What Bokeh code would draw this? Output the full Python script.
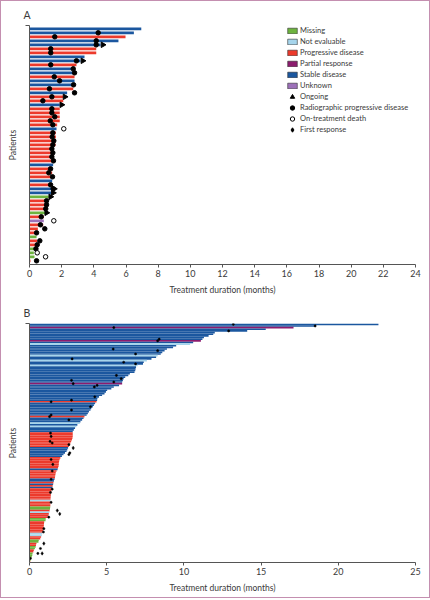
import math
from bokeh.plotting import figure
from bokeh.models import Range1d, FixedTicker, Legend, LegendItem, ColumnDataSource
from bokeh.layouts import column
from bokeh.embed import file_html
from bokeh.resources import INLINE

FONT = "Lato"
TEXT = "#3a3a3a"
AXIS = "#555555"
NAN = float("nan")

# ---------------- categories ----------------
status_codes = ["M", "N", "P", "R", "S", "U"]
status_names = ["Missing", "Not evaluable", "Progressive disease",
                "Partial response", "Stable disease", "Unknown"]
status_colors = ["#6db33f", "#a6d5ec", "#ec3a2c", "#8c1c6e", "#1b579f", "#9d71b9"]
marker_names = ["Ongoing", "Radiographic progressive disease",
                "On-treatment death", "First response"]

# ---------------- panel A data ----------------
a_dur = [6.95, 6.49, 5.97, 5.53, 4.42, 4.15, 4.15, 3.42, 3.17, 2.92,
         2.80, 2.80, 2.80, 2.80, 2.80, 2.72, 2.34, 2.10, 2.10, 1.88,
         1.88, 1.88, 1.88, 1.88, 1.72, 1.68, 1.64, 1.64, 1.62, 1.62,
         1.51, 1.51, 1.51, 1.51, 1.47, 1.41, 1.41, 1.41, 1.41, 1.35,
         1.41, 1.37, 1.20, 1.10, 1.10, 1.06, 1.00, 0.89, 0.89, 0.85,
         0.52, 0.48, 0.44, 0.47, 0.44, 0.33, 0.27, 0.31, 0.06]
a_status = ["S", "S", "P", "S", "S", "P", "P", "S", "S", "P",
            "S", "S", "P", "S", "S", "P", "S", "P", "P", "S",
            "P", "P", "P", "P", "P", "S", "P", "P", "P", "P",
            "P", "P", "P", "P", "S", "P", "P", "P", "S", "P",
            "S", "S", "M", "P", "P", "P", "M", "P", "U", "P",
            "P", "P", "M", "P", "P", "M", "M", "M", "P"]
a_pd_rows = [2, 3, 4, 5, 6, 7, 9, 10, 11, 12, 13, 14, 15, 16, 17, 18, 19, 21, 22, 23,
             24, 25, 27, 28, 29, 30, 31, 32, 33, 34, 36, 37, 38, 40, 41, 44, 45, 46, 48, 50,
             51, 52, 54, 55, 56, 59]
a_pd_vals = [4.27, 1.57, 4.15, 4.15, 1.32, 1.32, 2.92, 1.32, 2.72, 2.80, 1.54, 1.87, 2.74, 1.24,
             2.80, 1.39, 0.83, 1.39, 1.39, 1.57, 1.29, 1.45, 1.45, 1.41, 1.51, 1.45, 1.39, 1.45,
             1.39, 1.49, 1.31, 1.20, 1.43, 1.31, 1.47, 1.06, 1.06, 1.01, 0.73, 0.68, 0.95, 0.44,
             0.64, 0.48, 0.40, 0.44]
a_on_rows = [5, 9, 18, 20, 41, 42, 43, 47]
a_on_vals = [4.56, 3.31, 2.20, 2.00, 1.53, 1.47, 1.31, 1.06]
a_death_rows = [26, 49, 57, 58]
a_death_vals = [2.13, 1.51, 0.48, 1.00]
a_ticks = [0, 2, 4, 6, 8, 10, 12, 14, 16, 18, 20, 22, 24]

# ---------------- panel B data ----------------
b_dur = [22.6, 18.5, 17.1, 15.3, 14.1, 12.0, 11.9, 11.6, 11.3, 11.2,
         11.1, 10.6, 10.4, 9.5, 9.3, 8.9, 8.75, 8.6, 8.5, 8.3,
         8.2, 7.9, 7.6, 7.4, 7.35, 7.0, 6.9, 6.87, 6.85, 6.8,
         6.5, 6.4, 6.2, 6.1, 6.05, 6.0, 6.0, 5.8, 5.46, 5.3,
         5.03, 4.95, 4.86, 4.7, 4.5, 4.4, 4.38, 4.34, 4.25, 4.17,
         4.1, 4.0, 3.95, 3.85, 3.78, 3.7, 3.56, 3.5, 3.41, 3.3,
         3.26, 3.1, 3.04, 2.95, 2.87, 2.8, 2.8, 2.8, 2.8, 2.78,
         2.75, 2.7, 2.65, 2.6, 2.55, 2.5, 2.45, 2.4, 2.3, 2.2,
         2.1, 2.0, 1.95, 1.92, 1.9, 1.9, 1.88, 1.85, 1.82, 1.75,
         1.7, 1.68, 1.66, 1.65, 1.62, 1.58, 1.55, 1.53, 1.5, 1.48,
         1.45, 1.42, 1.4, 1.38, 1.38, 1.37, 1.36, 1.36, 1.36, 1.35,
         1.35, 1.34, 1.33, 1.3, 1.28, 1.25, 1.22, 1.18, 1.05, 1.04,
         0.95, 0.94, 0.93, 0.92, 0.9, 0.88, 0.85, 0.82, 0.8, 0.75,
         0.7, 0.6, 0.58, 0.45, 0.42, 0.4, 0.35, 0.28, 0.25, 0.2,
         0.18, 0.15, 0.1, 0.08, 0.05]
b_status = (["S", "S", "R", "S", "S", "S", "S", "S", "S", "S",
             "R", "S", "N", "S", "S", "S", "S", "S", "S", "N",
             "S", "S", "N", "S", "S", "N", "S", "S", "S", "S",
             "S", "S", "S", "S", "S", "S", "R", "S", "S", "S",
             "S", "S", "S", "S", "S", "S", "S", "P", "S", "S",
             "S", "S", "S", "S", "S", "S", "P", "S", "S", "S",
             "N", "S", "N", "S", "S", "S", "P", "P", "P", "P",
             "P", "P", "P", "P", "P", "S", "S", "S", "S", "S",
             "S", "P", "P", "P", "P", "P", "P", "P", "S", "P",
             "P", "P", "P", "P", "S", "S", "P", "S", "P", "S",
             "P", "P", "P", "P", "P", "P", "P", "N", "P", "P",
             "P", "M", "M", "P", "N", "P", "P", "P", "M", "M",
             "P", "P", "P", "P", "P", "P", "P", "N", "N", "P",
             "P", "M", "M", "P", "P", "M", "M", "P", "P", "M",
             "M", "M", "P", "M", "P"])
b_pd_rows = [1, 2, 3, 5, 10, 11, 16, 17, 19, 22, 24, 25, 32, 34, 35, 36, 37, 38, 39, 45,
             47, 48, 51, 53, 56, 57, 59, 67, 69, 72, 73, 74, 79, 80, 83, 86, 90, 95, 101, 103,
             109, 118, 125, 127, 137, 140, 143]
b_pd_vals = [13.2, 18.5, 5.46, 12.9, 8.4, 8.3, 5.42, 8.3, 6.87, 2.76, 6.1, 6.87, 5.63, 5.94,
             2.72, 5.46, 2.83, 4.38, 4.2, 4.23, 2.72, 1.4, 3.95, 2.72, 1.4, 1.3, 2.55, 1.36,
             1.4, 1.33, 1.47, 2.55, 2.61, 2.55, 1.4, 1.51, 1.47, 1.4, 1.47, 1.36, 1.4, 1.25,
             0.93, 0.9, 0.71, 0.54, 0.06]
b_fr_rows = [76, 114, 116, 134, 140]
b_fr_vals = [2.83, 1.8, 1.96, 0.93, 0.82]
b_ticks = [0, 5, 10, 15, 20, 25]

color_of = dict(zip(status_codes, status_colors))


def style_axes(p, ticks, top_tick):
    p.xgrid.visible = False
    p.ygrid.visible = False
    p.outline_line_color = None
    ax = p.xaxis[0]
    ax.ticker = FixedTicker(ticks=ticks)
    ax.minor_tick_line_color = None
    ax.major_tick_in = 0
    ax.major_tick_out = 3
    ax.axis_line_color = AXIS
    ax.major_tick_line_color = AXIS
    ax.major_label_text_font = FONT
    ax.major_label_text_font_size = "9px"
    ax.major_label_text_color = TEXT
    ax.major_label_standoff = 2
    ax.axis_label = "Treatment duration (months)"
    ax.axis_label_text_font = FONT
    ax.axis_label_text_font_size = "8.5px"
    ax.axis_label_text_font_style = "normal"
    ax.axis_label_text_color = TEXT
    ax.axis_label_standoff = 5
    ay = p.yaxis[0]
    ay.ticker = FixedTicker(ticks=[top_tick])
    ay.major_label_overrides = {top_tick: ""}
    ay.minor_tick_line_color = None
    ay.major_tick_in = 0
    ay.major_tick_out = 4
    ay.major_label_standoff = 0
    ay.axis_line_color = AXIS
    ay.major_tick_line_color = AXIS
    ay.axis_label = "Patients"
    ay.axis_label_text_font = FONT
    ay.axis_label_text_font_size = "8.5px"
    ay.axis_label_text_font_style = "normal"
    ay.axis_label_text_color = TEXT
    ay.axis_label_standoff = 8


def style_title(p, txt):
    p.title.text = txt
    p.title.text_font = FONT
    p.title.text_font_size = "10.5px"
    p.title.text_font_style = "normal"
    p.title.text_color = TEXT
    p.title.align = "left"
    p.title.offset = -6
    p.title.standoff = 9


# ---------------- panel A ----------------
na = len(a_dur)
pa = figure(width=428, height=299, x_range=Range1d(0, 24),
            y_range=Range1d(na + 0.925, 0.175),
            output_backend="svg", toolbar_location=None,
            min_border_left=28, min_border_right=14, min_border_top=24, min_border_bottom=36)
style_axes(pa, a_ticks, 0.175)
style_title(pa, "A")

src_a = ColumnDataSource(dict(y=list(range(1, na + 1)), right=a_dur,
                              color=[color_of[s] for s in a_status]))
pa.hbar(y="y", left=0, right="right", height=0.7, fill_color="color", line_color=None, source=src_a)
pa.scatter(a_pd_vals, a_pd_rows, marker="circle", size=4.5, fill_color="black", line_color="black")
pa.scatter(a_on_vals, a_on_rows, marker="triangle", angle=-math.pi / 2, size=5.5,
           fill_color="black", line_color="black")
pa.scatter(a_death_vals, a_death_rows, marker="circle", size=4.5, fill_color="white",
           line_color="black", line_width=1)

# legend: style-only renderers holding a single NaN point (never drawn in the plot)
rect_items = []
for name, col in zip(status_names, status_colors):
    r = pa.rect(x=[NAN], y=[NAN], width=[1], height=[1], fill_color=col,
                line_color="#333333", line_width=0.6)
    rect_items.append(LegendItem(label=name, renderers=[r]))
m_on = pa.scatter(x=[NAN], y=[NAN], marker="triangle", angle=-math.pi / 2,
                  fill_color="black", line_color="black")
m_pd = pa.scatter(x=[NAN], y=[NAN], marker="circle", fill_color="black", line_color="black")
m_de = pa.scatter(x=[NAN], y=[NAN], marker="circle", fill_color="white", line_color="black")
m_fr = pa.scatter(x=[NAN], y=[NAN], marker="diamond", fill_color="black", line_color="black")
mark_items = [LegendItem(label=n, renderers=[r]) for n, r in zip(marker_names, [m_on, m_pd, m_de, m_fr])]


def make_legend(items, loc, gh):
    lg = Legend(items=items, location=loc, orientation="vertical",
                glyph_width=12, glyph_height=gh, label_height=11, label_width=10,
                spacing=0, padding=0, margin=0, label_standoff=2,
                border_line_color=None, background_fill_alpha=0,
                label_text_font=FONT, label_text_font_size="7.5px", label_text_color=TEXT)
    return lg


pa.add_layout(make_legend(rect_items, (257, 173), 7))
pa.add_layout(make_legend(mark_items, (257, 129), 11))

# ---------------- panel B ----------------
nb = len(b_dur)
pb = figure(width=428, height=297, x_range=Range1d(0, 25),
            y_range=Range1d(nb + 0.5, 0.5),
            output_backend="svg", toolbar_location=None,
            min_border_left=28, min_border_right=14, min_border_top=23, min_border_bottom=35)
style_axes(pb, b_ticks, 0.5)
style_title(pb, "B")

src_b = ColumnDataSource(dict(y=list(range(1, nb + 1)), right=b_dur,
                              color=[color_of[s] for s in b_status]))
pb.hbar(y="y", left=0, right="right", height=1.0, fill_color="color", line_color=None, source=src_b)
pb.scatter(b_pd_vals, b_pd_rows, marker="circle", size=2.2, fill_color="black", line_color="black",
           line_width=0.5)
pb.scatter(b_fr_vals, b_fr_rows, marker="diamond", size=3.5, fill_color="black", line_color="black",
           line_width=0.5)

layout = column(pa, pb, spacing=0, styles={"border": "1px solid #c48fb0"})

open("out.html", "w").write(file_html(layout, INLINE))
